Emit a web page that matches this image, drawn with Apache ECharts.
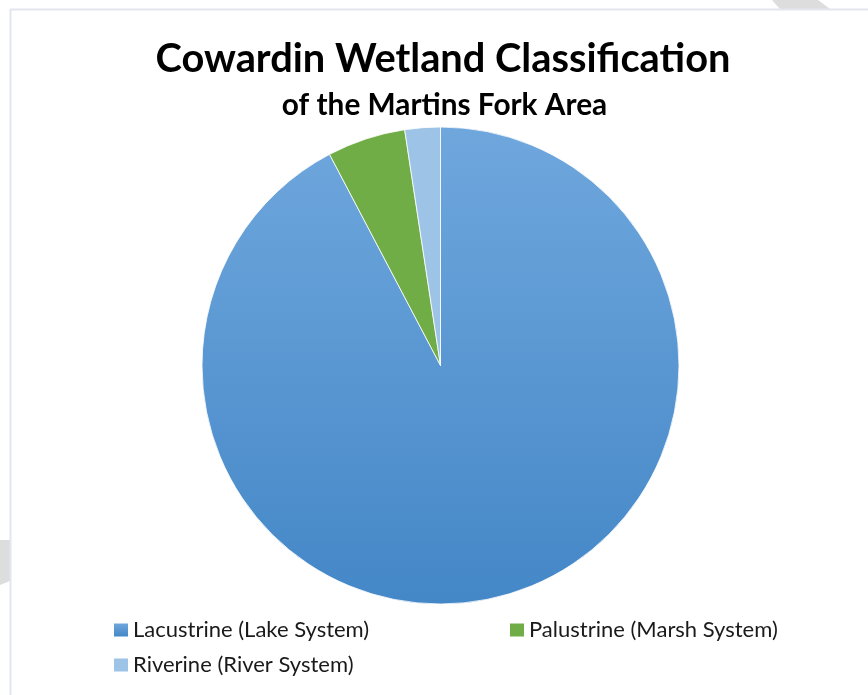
<!DOCTYPE html>
<html>
<head>
<meta charset="utf-8">
<script src="https://cdn.jsdelivr.net/npm/echarts@6/dist/echarts.min.js"></script>
<style>
  html, body { margin: 0; padding: 0; background: #ffffff; }
  #chart { width: 868px; height: 695px; }
</style>
</head>
<body>
<div id="chart"></div>
<script>
// Wetland systems and their share of the mapped area (percent)
const categories = ['Lacustrine (Lake System)', 'Palustrine (Marsh System)', 'Riverine (River System)'];
const shares = [92.3, 5.3, 2.4];
const sliceColors = [
  { type: 'linear', x: 0, y: 0, x2: 0, y2: 1,
    colorStops: [{ offset: 0, color: '#6fa7dd' }, { offset: 1, color: '#4487c7' }] },
  '#70ad47',
  '#9dc3e6'
];

const titleText = 'Cowardin Wetland Classification';
const subtitleText = 'of the Martins Fork Area';

const chart = echarts.init(document.getElementById('chart'), null, { renderer: 'canvas' });

const pieData = categories.map((name, i) => ({
  name: name,
  value: shares[i],
  itemStyle: { color: sliceColors[i] }
}));

const fontStack = 'Lato, "Open Sans", sans-serif';
const legendText = { color: '#1a1a1a', fontSize: 22, fontFamily: fontStack };

chart.setOption({
  backgroundColor: '#ffffff',
  animation: false,
  title: [
    {
      text: titleText,
      left: 438, top: 34, textAlign: 'center',
      textStyle: { fontSize: 39.8, fontWeight: 'bold', color: '#000000', fontFamily: fontStack }
    },
    {
      text: subtitleText,
      left: 439.5, top: 85, textAlign: 'center',
      textStyle: { fontSize: 29.8, fontWeight: 'bold', color: '#000000', fontFamily: fontStack }
    }
  ],
  graphic: [
    // page frame and faint background marks
    { type: 'polygon', silent: true, z: -1,
      shape: { points: [[772, 0], [818, 0], [830, 9], [780, 9]] },
      style: { fill: '#dddddd' } },
    { type: 'polygon', silent: true, z: -1,
      shape: { points: [[0, 540], [10, 540], [10, 581], [0, 585]] },
      style: { fill: '#dddddd' } },
    { type: 'line', silent: true, z: -1,
      shape: { x1: 10, y1: 9.5, x2: 868, y2: 9.5 },
      style: { stroke: '#e2e6ef', lineWidth: 2 } },
    { type: 'line', silent: true, z: -1,
      shape: { x1: 10.5, y1: 9, x2: 10.5, y2: 695 },
      style: { stroke: '#e2e6ef', lineWidth: 2 } }
  ],
  legend: [
    {
      data: [categories[0], categories[2]],
      orient: 'vertical',
      left: 114, top: 619,
      padding: 0,
      itemWidth: 14, itemHeight: 13, itemGap: 13,
      icon: 'rect',
      itemStyle: { borderWidth: 0 },
      textStyle: legendText,
      selectedMode: false
    },
    {
      data: [categories[1]],
      orient: 'vertical',
      left: 510, top: 619,
      padding: 0,
      itemWidth: 14, itemHeight: 13,
      icon: 'rect',
      itemStyle: { borderWidth: 0 },
      textStyle: legendText,
      selectedMode: false
    }
  ],
  series: [{
    type: 'pie',
    center: [440.5, 365.5],
    radius: [0, 238.5],
    startAngle: 90,
    clockwise: true,
    avoidLabelOverlap: false,
    label: { show: false },
    labelLine: { show: false },
    itemStyle: { borderColor: '#ffffff', borderWidth: 0.8 },
    emphasis: { disabled: true },
    data: pieData
  }]
});
</script>
</body>
</html>
